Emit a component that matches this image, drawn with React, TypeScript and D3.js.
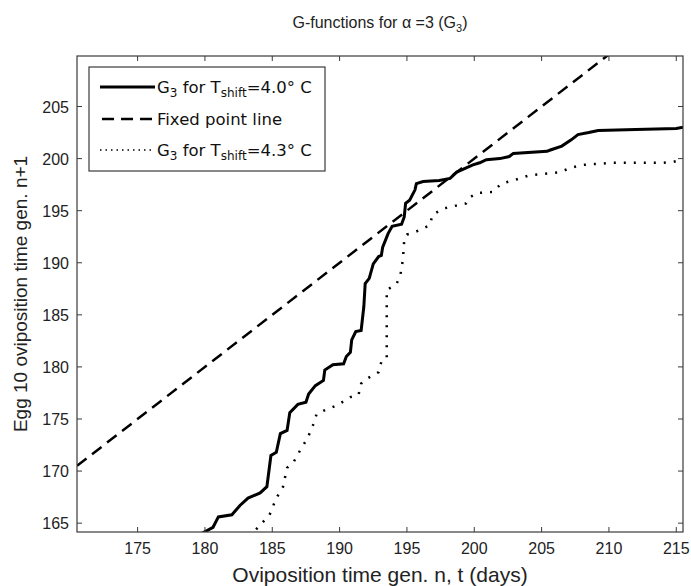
import React from "react";
import * as d3 from "d3";

const solidX = [179.6, 180.6, 181.0, 182.0, 182.6, 183.2, 184.1, 184.6, 184.9, 185.3, 185.6, 186.1, 186.3, 186.9, 187.5, 187.7, 188.2, 188.8, 188.9, 189.5, 190.3, 190.5, 190.8, 190.9, 191.2, 191.6, 191.8, 191.9, 192.2, 192.5, 192.9, 193.1, 193.2, 193.6, 193.9, 194.6, 194.8, 194.9, 195.2, 195.6, 195.7, 196.2, 197.4, 198.2, 198.7, 199.4, 199.9, 200.4, 200.9, 201.9, 202.6, 202.9, 205.4, 205.6, 206.5, 207.2, 207.7, 208.5, 209.2, 212.0, 215.0, 215.5];
const solidY = [163.9, 164.6, 165.6, 165.8, 166.7, 167.4, 167.9, 168.5, 171.5, 171.8, 173.6, 173.9, 175.6, 176.4, 176.6, 177.4, 178.2, 178.7, 179.7, 180.2, 180.3, 181.0, 181.4, 182.6, 183.4, 183.5, 185.8, 188.0, 188.5, 189.9, 190.6, 190.7, 191.5, 192.8, 193.5, 193.7, 194.4, 195.7, 196.0, 197.0, 197.6, 197.8, 197.9, 198.1, 198.7, 199.1, 199.4, 199.6, 199.9, 200.0, 200.2, 200.5, 200.7, 200.8, 201.2, 201.8, 202.3, 202.5, 202.7, 202.8, 202.9, 203.0];

const dottedX = [183.8, 184.8, 185.3, 185.8, 186.1, 186.6, 187.2, 187.6, 188.0, 188.3, 189.0, 189.8, 190.8, 191.4, 191.6, 191.8, 192.9, 193.1, 193.5, 193.5, 193.5, 194.2, 194.5, 194.7, 194.8, 195.0, 195.7, 196.7, 196.9, 197.7, 198.7, 199.4, 199.7, 200.2, 201.4, 202.0, 202.9, 204.1, 206.4, 207.1, 208.1, 210.3, 214.0, 214.8, 215.5];
const dottedY = [164.4, 165.8, 167.4, 168.5, 170.3, 170.9, 172.3, 173.1, 174.3, 175.5, 175.9, 176.3, 177.1, 177.3, 178.4, 178.7, 179.5, 180.5, 180.8, 183.5, 187.4, 187.9, 188.7, 190.3, 192.2, 192.7, 193.0, 193.6, 194.6, 195.2, 195.5, 195.7, 196.3, 196.7, 196.8, 197.6, 197.9, 198.4, 198.7, 199.1, 199.4, 199.6, 199.6, 199.7, 199.9];

const fixedX = [170.5, 215.5];

const xTicks = [175, 180, 185, 190, 195, 200, 205, 210, 215];
const yTicks = [165, 170, 175, 180, 185, 190, 195, 200, 205];

const xDomain = [170.5, 215.5];
const yDomain = [164.15, 209.85];

const L = 77, R = 683, T = 56, B = 532;
const FONT = "'Liberation Sans', Arial, Helvetica, sans-serif";
const LEGEND_FONT = "'DejaVu Sans', sans-serif";

export default function App() {
  const x = d3.scaleLinear().domain(xDomain).range([L, R]);
  const y = d3.scaleLinear().domain(yDomain).range([B, T]);
  const line = d3.line<[number, number]>().x(d => x(d[0])).y(d => y(d[1]));
  const solidPts = solidX.map((v, i) => [v, solidY[i]] as [number, number]);
  const dottedPts = dottedX.map((v, i) => [v, dottedY[i]] as [number, number]);
  const fixedPts = fixedX.map(v => [v, v] as [number, number]);
  const stroke = "#3a3a3a";
  const tl = 5;
  return (
    <svg width={691} height={586} style={{ position: "absolute", left: 0, top: 0, background: "#fff" }} fontFamily={FONT}>
      <defs>
        <clipPath id="plotclip">
          <rect x={L} y={T} width={R - L} height={B - T} />
        </clipPath>
      </defs>
      <rect x={0} y={0} width={691} height={586} fill="#fff" />
      <text x={(L + R) / 2} y={28} textAnchor="middle" fontSize={16} fill="#222">
        G-functions for α =3 (G<tspan fontSize={11} dy={4}>3</tspan><tspan dy={-4}>)</tspan>
      </text>
      <g clipPath="url(#plotclip)">
        <path d={line(fixedPts) || ""} fill="none" stroke="#000" strokeWidth={2.5} strokeDasharray="12,7" />
        <path d={line(dottedPts) || ""} fill="none" stroke="#000" strokeWidth={2.5} strokeDasharray="2,8" />
        <path d={line(solidPts) || ""} fill="none" stroke="#000" strokeWidth={3} strokeLinejoin="miter" />
      </g>
      <rect x={L} y={T} width={R - L} height={B - T} fill="none" stroke={stroke} strokeWidth={1.2} />
      {xTicks.map(t => (
        <g key={"x" + t}>
          <line x1={x(t)} x2={x(t)} y1={B} y2={B - tl} stroke={stroke} />
          <line x1={x(t)} x2={x(t)} y1={T} y2={T + tl} stroke={stroke} />
          <text x={x(t)} y={B + 22} textAnchor="middle" fontSize={16} fill="#222">{t}</text>
        </g>
      ))}
      {yTicks.map(t => (
        <g key={"y" + t}>
          <line x1={L} x2={L + tl} y1={y(t)} y2={y(t)} stroke={stroke} />
          <line x1={R} x2={R - tl} y1={y(t)} y2={y(t)} stroke={stroke} />
          <text x={L - 8} y={y(t) + 6} textAnchor="end" fontSize={16} fill="#222">{t}</text>
        </g>
      ))}
      <text x={(L + R) / 2} y={582} textAnchor="middle" fontSize={21} fill="#222">Oviposition time gen. n, t (days)</text>
      <text transform={`translate(27,${(T + B) / 2}) rotate(-90)`} textAnchor="middle" fontSize={19} fill="#222">Egg 10 oviposition time gen. n+1</text>
      <g fontFamily={LEGEND_FONT}>
        <rect x={89} y={67} width={236} height={104} fill="#fff" stroke={stroke} strokeWidth={1.2} />
        <line x1={100} x2={155} y1={87} y2={87} stroke="#000" strokeWidth={3} />
        <text x={157} y={93} fontSize={16.5} fill="#111">G<tspan fontSize={12} dy={4}>3</tspan><tspan dy={-4}> for T</tspan><tspan fontSize={12} dy={4}>shift</tspan><tspan dy={-4}>=4.0° C</tspan></text>
        <line x1={102} x2={155} y1={119} y2={119} stroke="#000" strokeWidth={2.5} strokeDasharray="12,7" />
        <text x={157} y={125} fontSize={16.5} fill="#111">Fixed point line</text>
        <line x1={100} x2={155} y1={150} y2={150} stroke="#000" strokeWidth={1.5} strokeDasharray="1.5,4" />
        <text x={157} y={156} fontSize={16.5} fill="#111">G<tspan fontSize={12} dy={4}>3</tspan><tspan dy={-4}> for T</tspan><tspan fontSize={12} dy={4}>shift</tspan><tspan dy={-4}>=4.3° C</tspan></text>
      </g>
    </svg>
  );
}
